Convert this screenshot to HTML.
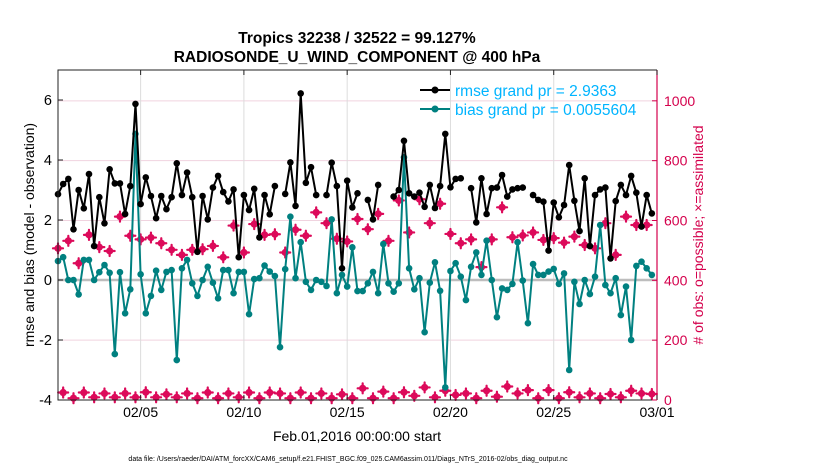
<!DOCTYPE html>
<html><head><meta charset="utf-8"><style>
body{margin:0;background:#fff;}
svg{display:block;font-family:"Liberation Sans",Arial,sans-serif;}
</style></head><body>
<svg id="chart" width="830" height="470" viewBox="0 0 830 470">
<text x="357" y="43" text-anchor="middle" font-size="15.5" font-weight="bold">Tropics 32238 / 32522 = 99.127%</text>
<text x="357" y="62" text-anchor="middle" font-size="15.5" font-weight="bold">RADIOSONDE_U_WIND_COMPONENT @ 400 hPa</text>
<g id="grid"></g>
<g id="plot"></g>
<g id="axes"></g>
<text x="34" y="235" text-anchor="middle" font-size="14" transform="rotate(-90 34 235)">rmse and bias (model - observation)</text>
<text x="703" y="235" text-anchor="middle" font-size="14" fill="#d4004c" transform="rotate(-90 703 235)"># of obs: o=possible; ×=assimilated</text>
<text x="357" y="441" text-anchor="middle" font-size="14">Feb.01,2016 00:00:00 start</text>
<text x="348" y="461" text-anchor="middle" font-size="7">data file: /Users/raeder/DAI/ATM_forcXX/CAM6_setup/f.e21.FHIST_BGC.f09_025.CAM6assim.011/Diags_NTrS_2016-02/obs_diag_output.nc</text>
<g id="legend">
<line x1="420" y1="90" x2="450" y2="90" stroke="#000" stroke-width="2"/>
<circle cx="435" cy="90" r="3.5" fill="#000"/>
<text x="455" y="96" font-size="15.5" fill="#00b4ff">rmse grand pr = 2.9363</text>
<line x1="420" y1="109" x2="450" y2="109" stroke="#008080" stroke-width="2"/>
<circle cx="435" cy="109" r="3.5" fill="#008080"/>
<text x="455" y="115" font-size="15.5" fill="#00b4ff">bias grand pr = 0.0055604</text>
</g>
</svg>
<script>
const rmse=[2.86,3.2,3.37,1.69,3.0,2.39,3.53,1.13,2.76,1.89,3.69,3.22,3.22,2.2,3.13,5.87,2.53,3.42,2.8,2.06,2.8,2.36,2.76,3.89,2.83,3.58,2.76,0.94,2.8,2.02,3.08,3.47,2.93,2.62,3.02,0.76,2.83,2.33,3.04,1.42,2.83,2.19,3.13,null,2.87,3.92,2.47,6.22,3.24,3.76,2.83,null,2.83,3.91,3.13,0.39,3.31,2.42,2.89,null,2.67,2.02,3.17,null,null,2.78,3.0,4.64,2.89,2.78,2.91,2.44,3.17,2.4,3.13,4.87,3.09,3.37,3.39,null,3.06,1.92,3.39,2.2,3.06,3.08,3.5,2.78,3.02,3.06,3.08,null,2.83,2.67,2.61,0.98,2.58,2.09,2.5,3.83,2.64,1.63,3.39,1.13,2.83,3.02,3.08,0.72,2.63,3.17,2.83,3.47,2.91,1.78,2.83,2.22];
const bias=[0.63,0.76,0,0,-0.48,0.67,0.67,0,0.26,0.5,0.24,-2.47,0.26,-1.11,-0.31,4.87,0.19,-1.11,-0.53,0.31,-0.33,0.27,0.33,-2.67,0.39,0.67,-0.11,-0.53,0,0.44,-0.09,-0.61,0.33,0.33,-0.44,0.27,0.27,-1.14,0.03,0.06,0.48,0.28,0.13,-2.24,0.36,2.11,0.06,1.26,-0.06,-0.33,0,-0.06,-0.2,2.02,-0.44,0.17,-0.22,1.09,-0.37,-0.37,-0.11,0.27,-0.44,1.2,-0.11,-0.39,-0.11,4.09,0.39,-0.31,0.06,-1.74,-0.09,0.59,-0.36,-3.58,0.3,0.56,0.11,-0.67,0.44,0.92,0.17,1.31,0,-1.24,-0.28,-0.33,-0.13,1.26,-0.02,-1.44,0.53,0.17,0.17,0.28,0.37,-0.13,0.22,-3.0,-0.06,-0.8,0,-0.47,0.11,1.83,-0.17,-0.44,0.06,-1.17,-0.22,-2.0,0.47,0.61,0.39,0.17];
const obsMain=[507,532,457,552,511,498,613,549,537,543,524,502,485,502,504,515,477,583,493,588,552,554,493,569,549,627,591,539,530,605,571,622,532,667,560,671,591,656,555,524,537,444,537,644,544,550,560,535,541,526,546,518,507,591,485,613,585,585];
const obsOff=[25,6,25,9,22,9,22,9,26,9,19,9,22,6,25,6,22,9,25,6,25,22,6,25,6,22,6,19,6,39,6,28,6,26,14,42,9,31,17,22,6,31,11,45,22,33,6,33,6,26,9,22,6,20,9,31,22,20];
const xTickLabels=["02/05","02/10","02/15","02/20","02/25","03/01"];
const xTickDays=[4,9,14,19,24,29];
const yLeftTicks=[-4,-2,0,2,4,6];
const yRightTicks=[0,200,400,600,800,1000];

const L=58,R=657,T=70,B=400;
const NS="http://www.w3.org/2000/svg";
const xDay=d=>L+(R-L)*d/29;
const xIdx=i=>xDay(i*0.25);
const yL=v=>B-(v+4)*(B-T)/11;
const yR=c=>B-c*(B-T)/1103;
function mk(tag,attrs,parent){const e=document.createElementNS(NS,tag);for(const k in attrs)e.setAttribute(k,attrs[k]);parent.appendChild(e);return e;}
const grid=document.getElementById('grid'),plot=document.getElementById('plot'),axes=document.getElementById('axes');

yRightTicks.forEach(c=>{const g=mk('line',{x1:L,x2:R,y1:yR(c),y2:yR(c),stroke:'#f0d3df','stroke-width':1},grid);

});
xTickDays.forEach(d=>{const g=mk('line',{x1:xDay(d),x2:xDay(d),y1:T,y2:B,stroke:'#dcdcdc','stroke-width':1},grid);

});
const zl=mk('line',{x1:L,x2:R,y1:yL(0),y2:yL(0),stroke:'#bdbdbd','stroke-width':2.5},grid);



function obsMark(x,y,name){const g=mk('g',{},plot);


mk('circle',{cx:x,cy:y,r:3.6,fill:'#dc0a5a'},g);
mk('path',{d:`M${x} ${y-5}V${y+5}M${x-5} ${y}H${x+5}`,stroke:'#dc0a5a','stroke-width':2.2,'stroke-linecap':'round'},g);}
obsMain.forEach((c,k)=>obsMark(xIdx(2*k),yR(c),'obs-count-marker'));
obsOff.forEach((c,k)=>obsMark(xIdx(2*k+1),yR(c),'obs-count-marker-offhour'));

function series(vals,color,name){let d='',pen=false;
vals.forEach((v,i)=>{if(v===null){pen=false;return;}d+=(pen?'L':'M')+xIdx(i).toFixed(1)+' '+yL(v).toFixed(1);pen=true;});
const p=mk('path',{d:d,fill:'none',stroke:color,'stroke-width':2,'stroke-linejoin':'round'},plot);


vals.forEach((v,i)=>{if(v===null)return;const c=mk('circle',{cx:xIdx(i),cy:yL(v),r:3.3,fill:color},plot);

});}
series(bias,'#008080','bias');
series(rmse,'#000000','rmse');

const frame=mk('path',{d:`M${R} ${T}H${L}V${B}H${R}`,fill:'none',stroke:'#222','stroke-width':1},axes);


const ra=mk('line',{x1:R,x2:R,y1:T,y2:B,stroke:'#d4004c','stroke-width':1.2},axes);


xTickDays.forEach((d,k)=>{const x=xDay(d);
mk('line',{x1:x,x2:x,y1:B,y2:B-5,stroke:'#222'},axes);
mk('line',{x1:x,x2:x,y1:T,y2:T+5,stroke:'#222'},axes);
const t=mk('text',{x:x,y:B+17,'text-anchor':'middle','font-size':14},axes);t.textContent=xTickLabels[k];

});
yLeftTicks.forEach(v=>{const y=yL(v);mk('line',{x1:L,x2:L+5,y1:y,y2:y,stroke:'#222'},axes);
const t=mk('text',{x:L-6,y:y+5,'text-anchor':'end','font-size':14.5},axes);t.textContent=v;

});
yRightTicks.forEach(c=>{const y=yR(c);mk('line',{x1:R,x2:R-5,y1:y,y2:y,stroke:'#d4004c'},axes);
const t=mk('text',{x:R+7,y:y+5,'font-size':14,fill:'#d4004c'},axes);t.textContent=c;

});
</script>
</body></html>
